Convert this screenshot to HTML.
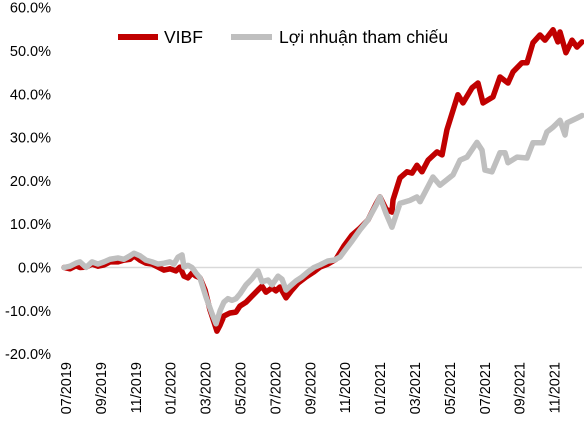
<!DOCTYPE html>
<html><head><meta charset="utf-8"><style>
html,body{margin:0;padding:0;background:#fff;}
svg{display:block;font-family:"Liberation Sans","Noto Sans CJK SC",sans-serif;}
</style></head><body>
<svg id="chart" width="584" height="422"></svg>
<script>
const monthLabels=["07/2019","09/2019","11/2019","01/2020","03/2020","05/2020","07/2020","09/2020","11/2020","01/2021","03/2021","05/2021","07/2021","09/2021","11/2021"];
const yTicks=[-20,-10,0,10,20,30,40,50,60];
const vibfT=[-0.11,0.23,0.57,0.80,1.15,1.49,1.83,2.18,2.52,2.98,3.32,3.67,3.90,4.24,4.58,4.93,5.27,5.62,5.96,6.30,6.53,6.76,6.99,7.22,7.45,7.68,7.97,8.25,8.48,8.65,8.83,9.05,9.40,9.74,9.97,10.32,10.66,11.00,11.23,11.46,11.81,12.03,12.26,12.61,12.95,13.30,13.75,14.21,14.56,15.01,15.47,15.93,16.39,16.85,17.31,17.77,17.99,18.34,18.68,18.74,19.14,19.54,19.83,20.11,20.40,20.75,21.26,21.55,21.83,22.46,22.75,23.27,23.61,23.90,24.47,24.87,25.33,25.62,26.13,26.42,26.76,27.16,27.45,27.91,28.19,28.31,28.65,29.00,29.28,29.57];
const vibfV=[0,-0.3,0.4,0,0.1,0.8,0.3,0.6,1.3,1.3,1.7,1.9,2.7,1.7,1.0,0.8,0.1,-0.6,-0.3,-0.8,0.1,-2.0,-2.4,-1.3,-2.0,-2.4,-5.2,-9.8,-12.6,-14.7,-13.3,-11.2,-10.5,-10.3,-8.9,-8.0,-6.6,-5.2,-4.3,-5.7,-4.7,-5.4,-4.5,-7.0,-5.2,-3.6,-2.2,-1.0,0.1,0.8,1.9,5.0,7.5,9.1,11.0,14.7,16.3,13.5,12.8,15.6,20.7,22.1,21.8,23.6,22.1,24.8,26.7,26.0,31.8,39.9,38.0,41.5,42.6,38.0,39.4,44.0,42.6,45.2,47.3,47.3,51.9,53.7,52.5,54.9,52.1,54.4,49.6,52.5,50.9,52.1];
const refT=[-0.11,0.23,0.57,0.80,1.15,1.49,1.83,2.18,2.52,2.98,3.32,3.67,3.90,4.24,4.58,4.93,5.27,5.62,5.96,6.19,6.42,6.65,6.76,6.99,7.22,7.45,7.68,8.02,8.37,8.60,8.83,9.05,9.28,9.51,9.74,9.97,10.32,10.66,11.00,11.23,11.58,11.81,12.15,12.38,12.61,12.84,13.18,13.52,13.87,14.21,14.56,15.01,15.36,15.70,16.05,16.39,16.85,17.31,17.77,17.99,18.34,18.68,19.14,19.71,20.11,20.29,21.03,21.43,22.18,22.58,22.98,23.55,23.84,24.01,24.41,24.87,25.16,25.33,25.85,26.42,26.76,27.33,27.56,27.91,28.31,28.60,28.71,29.28,29.57];
const refV=[0,0.3,1.0,1.3,0,1.3,0.8,1.3,1.9,2.2,1.9,2.7,3.3,2.7,1.7,1.3,0.8,1.0,1.3,0.8,2.4,2.9,0.1,0.5,0,-1.3,-2.4,-6.8,-10.7,-13.0,-10.0,-8.0,-7.2,-7.6,-7.2,-6.1,-4.0,-2.6,-0.8,-3.3,-2.9,-4.0,-2.0,-2.7,-5.2,-4.3,-3.1,-2.2,-1.0,0,0.6,1.5,1.7,2.4,4.3,6.1,8.7,11.0,14.4,16.3,12.5,9.3,14.8,15.5,16.3,15.2,20.9,19.0,21.4,24.8,25.5,28.9,27.1,22.5,22.1,26.5,26.5,24.2,25.5,25.3,28.8,28.8,31.3,32.4,34.0,30.6,33.4,34.5,35.1];

const NS="http://www.w3.org/2000/svg";
const svg=document.getElementById('chart');
const xS=m=>66+m*17.45;
const yS=v=>267.5-v*4.33;
function mk(tag,attrs,parent){const e=document.createElementNS(NS,tag);for(const k in attrs)e.setAttribute(k,attrs[k]);(parent||svg).appendChild(e);return e;}

yTicks.forEach(v=>{
  const t=mk('text',{x:51,y:yS(v)+5,'text-anchor':'end','font-size':14.5,fill:'#000'});
  t.textContent=v.toFixed(1)+'%';
  
  
});
const zl=mk('line',{x1:64,x2:582,y1:yS(0),y2:yS(0),stroke:'#d9d9d9','stroke-width':1.5});



monthLabels.forEach((l,i)=>{
  const x=xS(i*2)+5;
  const t=mk('text',{x:0,y:0,transform:`translate(${x},362) rotate(-90)`,'text-anchor':'end','font-size':14.5,fill:'#000'});
  t.textContent=l;
  
  
});

function line(T,V,color,name){
  const d=T.map((t,i)=>(i?'L':'M')+xS(t).toFixed(2)+','+yS(V[i]).toFixed(2)).join(' ');
  const p=mk('path',{d:d,fill:'none',stroke:color,'stroke-width':5.5,'stroke-linejoin':'round','stroke-linecap':'round'});
  
  
}
line(vibfT,vibfV,'#c00000','vibf-line');
line(refT,refV,'#bfbfbf','benchmark-line');

const lg=mk('g',{});


const l1=mk('line',{x1:118,x2:158,y1:37,y2:37,stroke:'#c00000','stroke-width':6},lg);


const t1=mk('text',{x:164,y:43,'font-size':17.5,fill:'#000'},lg);
t1.textContent='VIBF';


const l2=mk('line',{x1:231,x2:272,y1:37,y2:37,stroke:'#bfbfbf','stroke-width':6},lg);


const t2=mk('text',{x:279,y:43,'font-size':17.5,fill:'#000'},lg);
t2.textContent='Lợi nhuận tham chiếu';


</script>
</body></html>
